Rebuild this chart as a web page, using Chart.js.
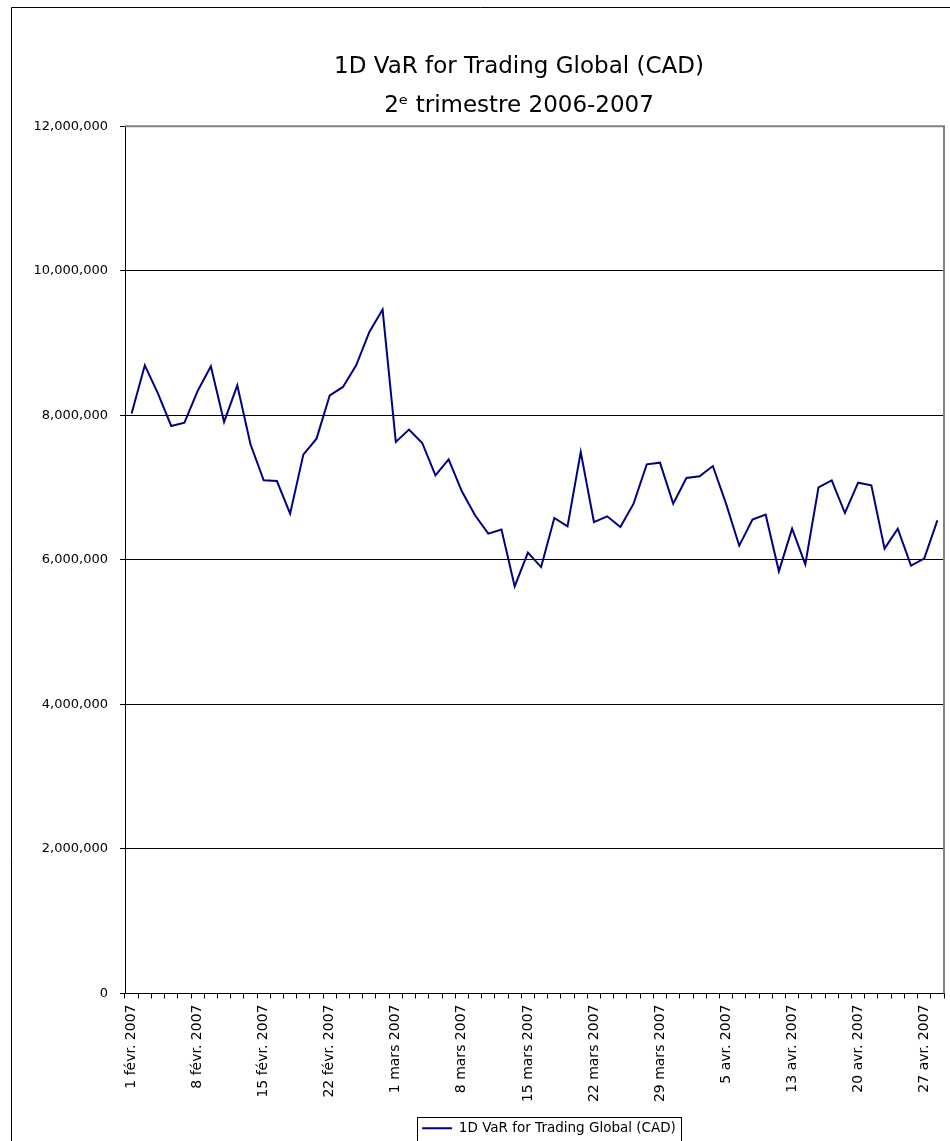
<!DOCTYPE html>
<html>
<head>
<meta charset="utf-8">
<script src="https://cdn.jsdelivr.net/npm/chart.js@4/dist/chart.umd.min.js"></script>
<style>
  html, body { margin: 0; padding: 0; background: #fff; }
  #wrap { width: 950px; height: 1141px; position: relative; }
</style>
</head>
<body>
<div id="wrap"><canvas id="chart"></canvas></div>
<script>
// business days, 1 févr. 2007 -> 30 avr. 2007 (Good Friday closed)
const dates = [
  '1 févr. 2007', '2 févr. 2007', '5 févr. 2007', '6 févr. 2007', '7 févr. 2007',
  '8 févr. 2007', '9 févr. 2007', '12 févr. 2007', '13 févr. 2007', '14 févr. 2007',
  '15 févr. 2007', '16 févr. 2007', '19 févr. 2007', '20 févr. 2007', '21 févr. 2007',
  '22 févr. 2007', '23 févr. 2007', '26 févr. 2007', '27 févr. 2007', '28 févr. 2007',
  '1 mars 2007', '2 mars 2007', '5 mars 2007', '6 mars 2007', '7 mars 2007',
  '8 mars 2007', '9 mars 2007', '12 mars 2007', '13 mars 2007', '14 mars 2007',
  '15 mars 2007', '16 mars 2007', '19 mars 2007', '20 mars 2007', '21 mars 2007',
  '22 mars 2007', '23 mars 2007', '26 mars 2007', '27 mars 2007', '28 mars 2007',
  '29 mars 2007', '30 mars 2007', '2 avr. 2007', '3 avr. 2007', '4 avr. 2007',
  '5 avr. 2007', '9 avr. 2007', '10 avr. 2007', '11 avr. 2007', '12 avr. 2007',
  '13 avr. 2007', '16 avr. 2007', '17 avr. 2007', '18 avr. 2007', '19 avr. 2007',
  '20 avr. 2007', '23 avr. 2007', '24 avr. 2007', '25 avr. 2007', '26 avr. 2007',
  '27 avr. 2007', '30 avr. 2007'
];

const varValues = [
  8024000, 8692000, 8300000, 7852000, 7899000,
  8337000, 8678000, 7908000, 8415000, 7599000,
  7100000, 7090000, 6640000, 7456000, 7677000,
  8277000, 8392000, 8692000, 9153000, 9463000,
  7631000, 7802000, 7617000, 7170000, 7391000,
  6948000, 6616000, 6362000, 6418000, 5633000,
  6100000, 5900000, 6579000, 6464000, 7492000,
  6523000, 6602000, 6454000, 6778000, 7322000,
  7345000, 6778000, 7132000, 7156000, 7298000,
  6778000, 6196000, 6556000, 6625000, 5841000,
  6431000, 5938000, 7004000, 7100000, 6648000,
  7068000, 7031000, 6155000, 6431000, 5920000,
  6017000, 6547000
];

const titleLines = ['1D VaR for Trading Global (CAD)', '2ᵉ trimestre 2006-2007'];
const seriesName = '1D VaR for Trading Global (CAD)';
const yMin = 0, yMax = 12000000, yStep = 2000000;

const FONT = "'DejaVu Sans', Tahoma, Verdana, sans-serif";
// Excel put title and legend off-centre
const TITLE_CENTER = 519;
const LEGEND_CENTER = 549;

const framePlugin = {
  id: 'frame',
  afterLayout(chart) {
    const lg = chart.legend;
    lg.left = 2 * LEGEND_CENTER - lg.right;
    const tb = chart.titleBlock;
    tb.left = 2 * TITLE_CENTER - tb.right;
  },
  beforeDraw(chart) {
    const { ctx, width, height } = chart;
    ctx.save();
    ctx.fillStyle = '#fff';
    ctx.fillRect(0, 0, width, height);
    ctx.strokeStyle = '#000';
    ctx.lineWidth = 1;
    ctx.beginPath();
    ctx.moveTo(11.5, height);
    ctx.lineTo(11.5, 7.5);
    ctx.lineTo(width, 7.5);
    ctx.stroke();
    ctx.restore();
  },
  afterDraw(chart) {
    const { ctx, chartArea: a } = chart;
    ctx.save();
    // plot area border (top / right), grey like Excel
    ctx.strokeStyle = '#808080';
    ctx.lineWidth = 2;
    ctx.beginPath();
    ctx.moveTo(a.left, a.top);
    ctx.lineTo(a.right, a.top);
    ctx.lineTo(a.right, a.bottom);
    ctx.stroke();
    // box around legend
    const hb = chart.legend.legendHitBoxes[0];
    if (hb) {
      ctx.strokeStyle = '#000';
      ctx.lineWidth = 1;
      ctx.strokeRect(Math.round(hb.left - 5) + 0.5, Math.round(hb.top - 5) + 0.5,
        Math.round(hb.width + 10), Math.round(hb.height + 10));
    }
    ctx.restore();
  }
};

new Chart(document.getElementById('chart'), {
  type: 'line',
  data: {
    labels: dates,
    datasets: [{
      label: seriesName,
      data: varValues,
      borderColor: '#000080',
      backgroundColor: '#000080',
      borderWidth: 2,
      pointRadius: 0,
      tension: 0,
      fill: false
    }]
  },
  options: {
    responsive: true,
    maintainAspectRatio: false,
    animation: false,
    devicePixelRatio: 1,
    layout: { padding: { left: 0, right: 6, top: 0, bottom: -4 } },
    plugins: {
      title: {
        display: true,
        text: titleLines,
        color: '#000',
        font: { family: FONT, size: 23, weight: 'normal', lineHeight: 1.7 },
        padding: { top: 47, bottom: 1 }
      },
      legend: {
        position: 'bottom',
        labels: {
          color: '#000',
          font: { family: FONT, size: 13.5 },
          usePointStyle: true,
          pointStyle: 'line',
          pointStyleWidth: 30,
          boxWidth: 30,
          padding: 6
        }
      },
      tooltip: { enabled: false }
    },
    scales: {
      x: {
        offset: true,
        afterFit(scale) {
          scale.height = 122;
          scale.paddingLeft = 0;
          scale.paddingRight = 0;
        },
        grid: {
          offset: true,
          drawOnChartArea: false,
          drawTicks: true,
          tickLength: 5,
          color: '#000'
        },
        border: { color: '#000', width: 1 },
        ticks: {
          autoSkip: false,
          maxRotation: 90,
          minRotation: 90,
          padding: 6,
          color: '#000',
          font: { family: FONT, size: 14 },
          callback(v, i) { return i % 5 === 0 ? this.getLabelForValue(v) : ''; }
        }
      },
      y: {
        min: yMin,
        max: yMax,
        afterFit(scale) { scale.width = 125; },
        grid: {
          color: '#000',
          lineWidth: 1,
          drawTicks: true,
          tickLength: 5
        },
        border: { color: '#000', width: 1 },
        ticks: {
          stepSize: yStep,
          padding: 12,
          color: '#000',
          font: { family: FONT, size: 13 },
          callback(v) { return v.toLocaleString('en-US'); }
        }
      }
    }
  },
  plugins: [framePlugin]
});
</script>
</body>
</html>
